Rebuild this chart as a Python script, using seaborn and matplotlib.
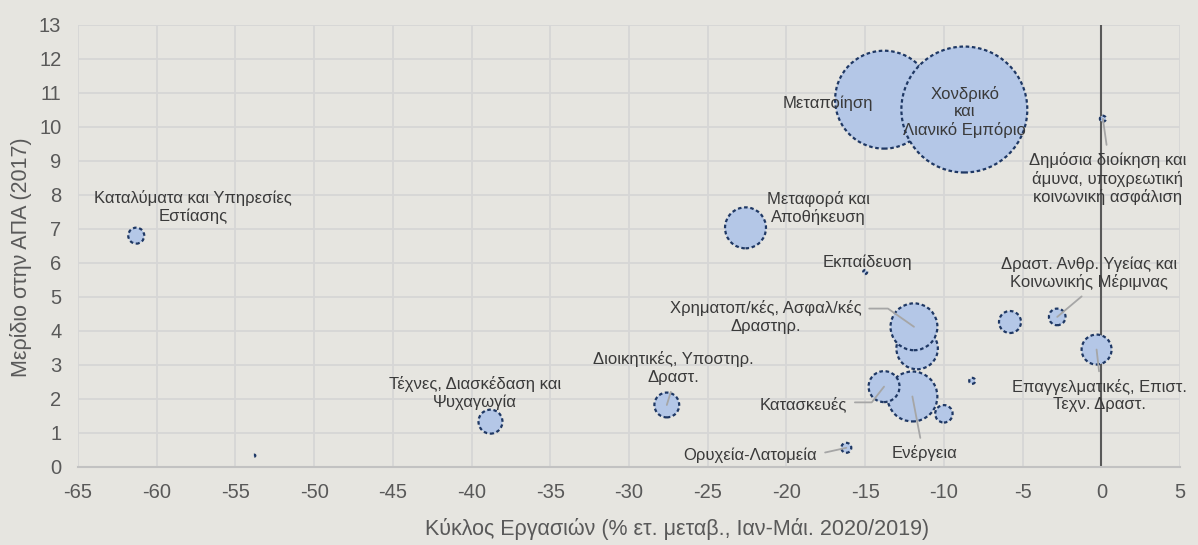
import numpy as np
import pandas as pd
import matplotlib
matplotlib.use('Agg')
import matplotlib.pyplot as plt
import seaborn as sns

# Sector data
sectors = ['', 'Ορυχεία-Λατομεία', 'Μεταποίηση', 'Ενέργεια', '', 'Κατασκευές',
           'Χονδρικό\nκαι\nΛιανικό Εμπόριο', 'Μεταφορά και\nΑποθήκευση',
           'Καταλύματα και Υπηρεσίες\nΕστίασης', '', 'Χρηματοπ/κές, Ασφαλ/κές\nΔραστηρ.',
           '', 'Επαγγελματικές, Επιστ.\nΤεχν. Δραστ.', 'Διοικητικές, Υποστηρ.\nΔραστ.',
           'Δημόσια διοίκηση και\nάμυνα, υποχρεωτική\nκοινωνική ασφάλιση', 'Εκπαίδευση',
           'Δραστ. Ανθρ. Υγείας και\nΚοινωνικής Μέριμνας', 'Τέχνες, Διασκέδαση και\nΨυχαγωγία', '']
turnover_change = [-53.8, -16.2, -13.8, -12.0, -10.0, -13.8, -8.7, -22.6, -61.3, -11.7,
                   -11.9, -8.2, -0.3, -27.6, 0.1, -15.0, -2.8, -38.8, -5.8]
gva_share = [0.32, 0.55, 10.79, 2.06, 1.55, 2.35, 10.5, 7.02, 6.79, 3.47,
             4.11, 2.52, 3.44, 1.81, 10.23, 5.72, 4.4, 1.32, 4.25]
bubble_weight = [0.1, 2.5, 240, 62.5, 7.6, 24, 397, 42, 6.4, 43,
                 55, 0.9, 22.5, 15.4, 0.9, 0.4, 6.9, 14.4, 12.1]

df = pd.DataFrame({'sector': sectors, 'change': turnover_change,
                   'share': gva_share, 'weight': bubble_weight})

bg = '#E6E5E0'
sns.set_style('whitegrid')
plt.rcParams['font.family'] = ['Liberation Sans', 'DejaVu Sans']
plt.rcParams['axes.unicode_minus'] = False

fig, ax = plt.subplots(figsize=(11.98, 5.45), dpi=100)
fig.patch.set_facecolor(bg)
ax.set_facecolor(bg)
fig.subplots_adjust(left=0.0651, right=0.985, bottom=0.144, top=0.955)

k = 20.7  # area per weight unit (pt^2)
w = np.array(bubble_weight)
sns.scatterplot(data=df, x='change', y='share', size='weight',
                sizes=(w.min() * k, w.max() * k), color='#B4C7E7',
                edgecolor='#1F3864', linewidth=1.6, linestyle=(0, (1.6, 1.2)),
                alpha=1, legend=False, ax=ax, zorder=3)

ax.axvline(0, color='#595959', lw=1.5, zorder=2)

ax.set_xlim(-65, 5)
ax.set_ylim(0, 13)
ax.set_xticks(range(-65, 6, 5))
ax.set_yticks(range(0, 14))
ax.grid(True, color='#D6D6D6', lw=1.3)
for s in ['left', 'right', 'top']:
    ax.spines[s].set_visible(False)
ax.spines['bottom'].set_color('#C2C2C2')
ax.spines['bottom'].set_linewidth(1.5)
ax.tick_params(length=0, labelsize=14.5, colors='#595959')
ax.tick_params(axis='x', pad=12)
ax.tick_params(axis='y', pad=12)

ax.set_xlabel('Κύκλος Εργασιών (% ετ. μεταβ., Ιαν-Μάι. 2020/2019)', fontsize=15.5, color='#595959')
ax.set_ylabel('Μερίδιο στην ΑΠΑ (2017)', fontsize=15.5, color='#595959')
ax.xaxis.set_label_coords(0.5436, -0.116)
ax.yaxis.set_label_coords(-0.042, 0.474)

# label placement: text position, leader relpos, connection style
layout = {
    'Καταλύματα και Υπηρεσίες\nΕστίασης': ((-57.7, 7.63), None, None),
    'Μεταποίηση': ((-17.35, 10.69), None, None),
    'Χονδρικό\nκαι\nΛιανικό Εμπόριο': ((-8.67, 10.43), None, None),
    'Δημόσια διοίκηση και\nάμυνα, υποχρεωτική\nκοινωνική ασφάλιση': ((0.4, 8.46), (0.5, 1), 'arc3'),
    'Μεταφορά και\nΑποθήκευση': ((-17.95, 7.6), None, None),
    'Εκπαίδευση': ((-14.87, 6.02), None, None),
    'Δραστ. Ανθρ. Υγείας και\nΚοινωνικής Μέριμνας': ((-0.8, 5.68), (0.5, 0), 'arc3'),
    'Χρηματοπ/κές, Ασφαλ/κές\nΔραστηρ.': ((-21.3, 4.4), (1.01, 0.75), 'angle,angleA=0,angleB=145,rad=0'),
    'Διοικητικές, Υποστηρ.\nΔραστ.': ((-27.2, 2.9), (0.5, 0), 'arc3'),
    'Τέχνες, Διασκέδαση και\nΨυχαγωγία': ((-39.8, 2.16), None, None),
    'Κατασκευές': ((-18.9, 1.84), (1.03, 0.6), 'angle,angleA=0,angleB=-128,rad=0'),
    'Επαγγελματικές, Επιστ.\nΤεχν. Δραστ.': ((-0.09, 2.09), (0.5, 1), 'arc3'),
    'Ορυχεία-Λατομεία': ((-22.3, 0.34), (1.03, 0.6), 'arc3'),
    'Ενέργεια': ((-11.2, 0.39), (0.45, 1), 'arc3'),
}

for _, row in df.iterrows():
    if not row['sector']:
        continue
    pos, relpos, conn = layout[row['sector']]
    kw = dict(ha='center', va='center', fontsize=12, color='#3A3A3A',
              linespacing=1.2, zorder=5)
    if relpos is None:
        ax.annotate(row['sector'], xy=pos, **kw)
    else:
        ax.annotate(row['sector'], xy=(row['change'], row['share']), xytext=pos,
                    arrowprops=dict(arrowstyle='-', color='#A6A6A6', lw=1.3,
                                    relpos=relpos, shrinkA=3, shrinkB=0,
                                    connectionstyle=conn),
                    **kw)

plt.savefig('out.png', dpi=100, facecolor=bg)
